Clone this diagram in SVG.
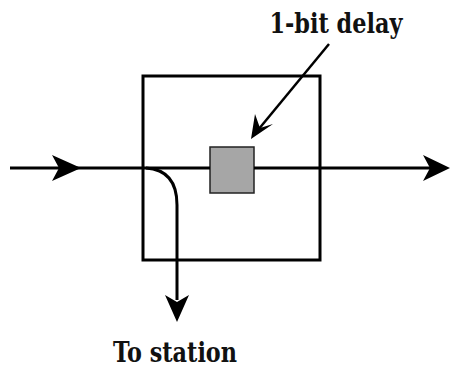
<svg xmlns="http://www.w3.org/2000/svg" width="450" height="367" viewBox="0 0 450 367">
<style>
.ln{fill:none;stroke:#000;stroke-width:3}
.ah{fill:#000;stroke:none}
</style>
<rect width="450" height="367" fill="#fff"/>
<g id="repeater">
<rect x="143" y="76" width="177" height="184" class="ln"/>
</g>
<g id="delay">
<rect x="210" y="147" width="44" height="46" fill="#a6a6a6" stroke="#222" stroke-width="1.5"/>
</g>
<g id="connectors">
<line x1="10" y1="168" x2="210" y2="168" class="ln"/>
<line x1="254" y1="168" x2="440" y2="168" class="ln"/>
<polygon class="ah" points="81,168 52,155 59,168 52,181"/>
<polygon class="ah" points="450,168 423,155 430,168 423,181"/>
<path d="M146,168 Q177,170 177,205 L177,300" class="ln"/>
<polygon class="ah" points="177,322 165,295 177,302 189,295"/>
<line x1="329" y1="44" x2="258" y2="130" stroke="#000" stroke-width="2.5"/>
<polygon class="ah" points="251,139 255,114 260,128 273,124"/>
</g>
<g id="labels" font-family="DejaVu Serif, serif" font-weight="bold" font-size="27" fill="#111">
<text x="336" y="33" text-anchor="middle" textLength="133" lengthAdjust="spacingAndGlyphs">1-bit delay</text>
<text x="175" y="362" text-anchor="middle" textLength="124" lengthAdjust="spacingAndGlyphs">To station</text>
</g>
</svg>
